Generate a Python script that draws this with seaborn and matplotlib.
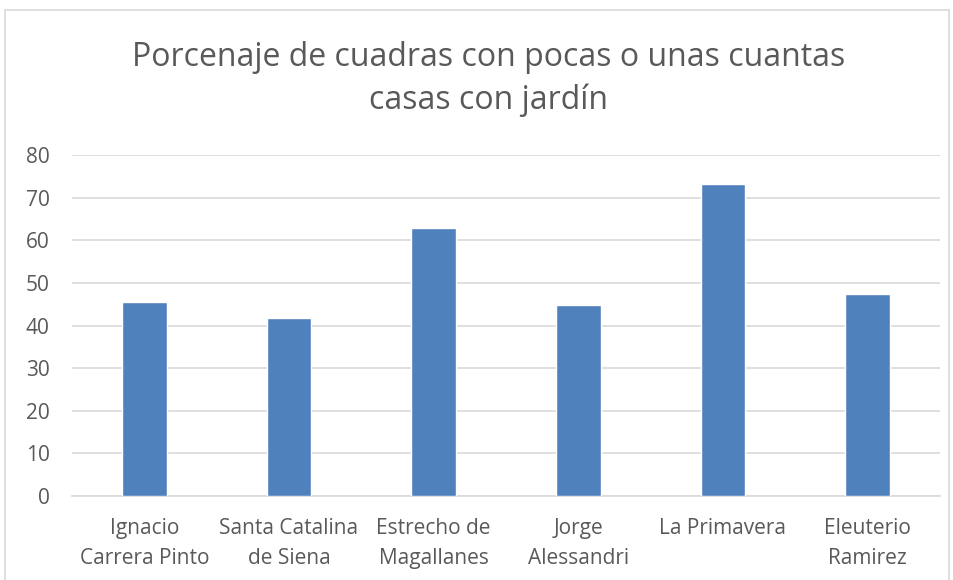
import matplotlib
matplotlib.use("Agg")
import matplotlib.pyplot as plt
import seaborn as sns
import pandas as pd
from matplotlib.patches import Rectangle

categories = ["Ignacio\nCarrera Pinto", "Santa Catalina\nde Siena", "Estrecho de\nMagallanes",
              "Jorge\nAlessandri", "La Primavera", "Eleuterio\nRamirez"]
values = [45.4, 41.7, 62.9, 44.8, 73.3, 47.3]
yticks = [0, 10, 20, 30, 40, 50, 60, 70, 80]
title = "Porcenaje de cuadras con pocas o unas cuantas\ncasas con jardín"

sns.set_theme(style="white")
plt.rcParams['font.family'] = ['Open Sans', 'DejaVu Sans']

W, H = 954, 580
fig = plt.figure(figsize=(W / 100, H / 100), dpi=100)
ax = fig.add_axes([72 / W, 1 - 496 / H, (940 - 72) / W, (496 - 155) / H])

df = pd.DataFrame({"cat": categories, "val": values})
sns.barplot(data=df, x="cat", y="val", color="#4F81BD", saturation=1, width=0.31, ax=ax, zorder=3)

ax.set_ylim(0, 80)
ax.set_yticks(yticks)
ax.set_xlim(-0.5, len(categories) - 0.5)
ax.yaxis.grid(True, color="#D9D9D9", linewidth=1.2, zorder=0)
ax.set_axisbelow(True)
for s in ["top", "right", "left"]:
    ax.spines[s].set_visible(False)
ax.spines["bottom"].set_color("#D9D9D9")
ax.spines["bottom"].set_linewidth(1.2)
ax.set_xlabel("")
ax.set_ylabel("")
ax.tick_params(axis="both", length=0, colors="#595959", labelsize=15)
ax.tick_params(axis="x", pad=16)
ax.tick_params(axis="y", pad=16)
for lbl in ax.get_yticklabels():
    lbl.set_horizontalalignment("right")
for lbl in ax.get_xticklabels():
    lbl.set_linespacing(1.55)

fig.text(489 / W, 1 - 79 / H, title, ha="center", va="center", fontsize=23, color="#595959",
         linespacing=1.38)

fig.patches.append(Rectangle((5 / W, -0.05), (949 - 5) / W, 1 - 10 / H + 0.05,
                             transform=fig.transFigure, fill=False, edgecolor="#D9D9D9",
                             linewidth=1.2))

fig.savefig("out.png", dpi=100)
